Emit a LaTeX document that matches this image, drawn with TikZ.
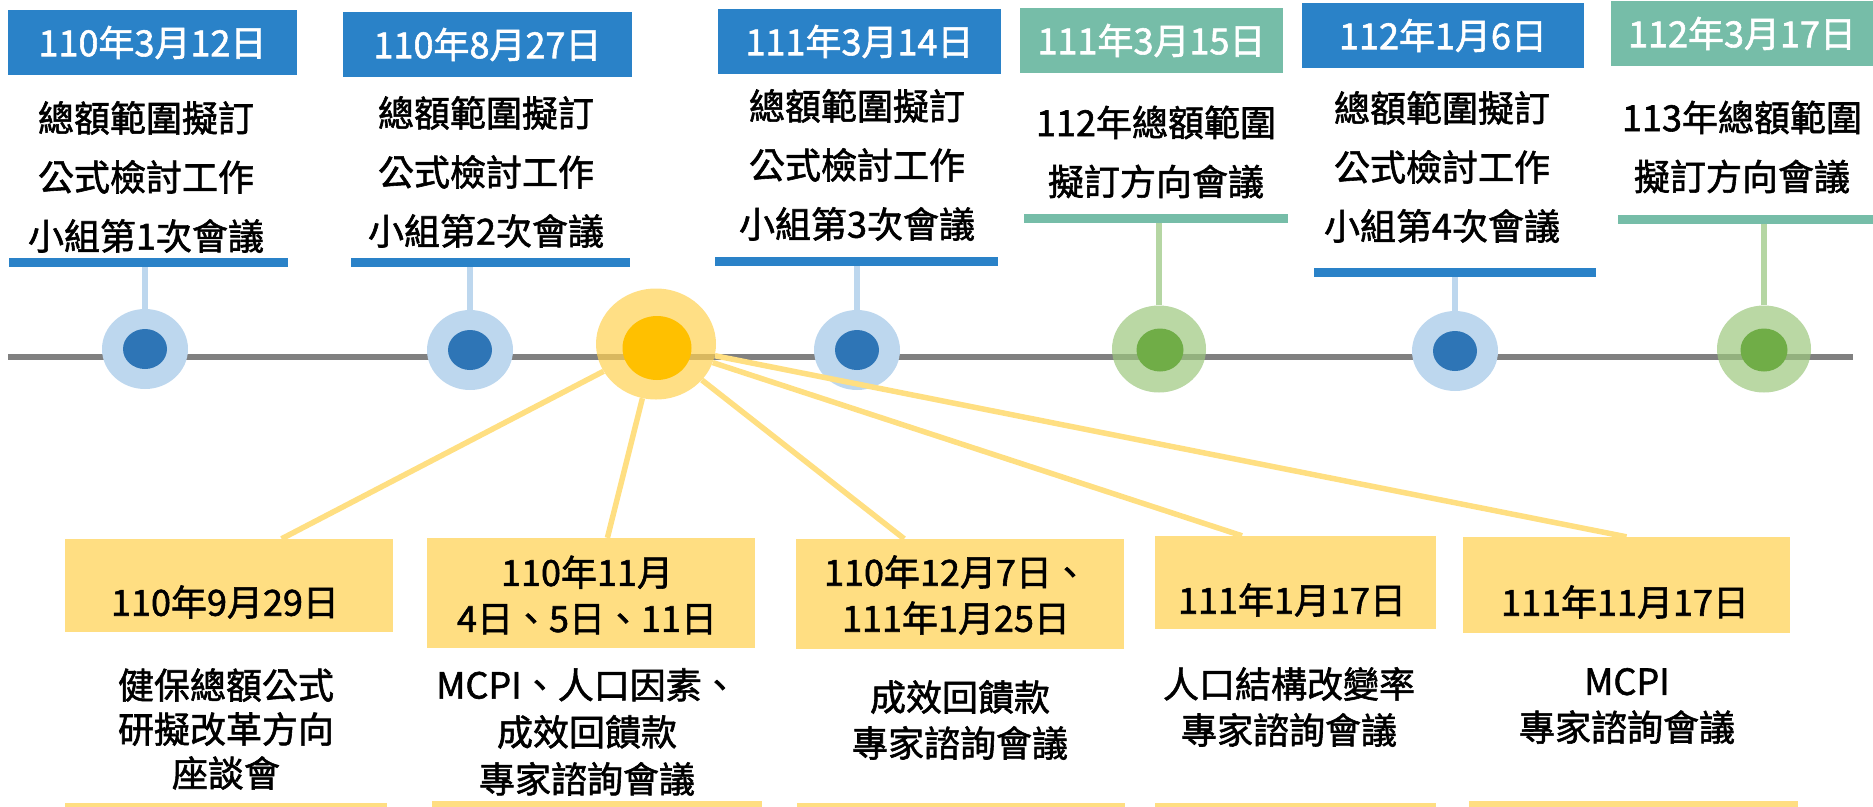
\documentclass[tikz,border=0pt]{standalone}
\usepackage{fontspec}
\newfontfamily\tw{Noto Sans CJK TC}[FakeBold=1.6]
\usepackage{tikz}
\usetikzlibrary{positioning}
\usetikzlibrary{calc}
\usetikzlibrary{shapes}
\definecolor{hblue}{RGB}{42,130,200}
\definecolor{hgreen}{RGB}{118,189,168}
\definecolor{ybox}{RGB}{255,222,130}
\definecolor{bout}{RGB}{189,215,238}
\definecolor{bin}{RGB}{46,117,182}
\definecolor{gout}{RGB}{156,199,126}
\definecolor{gin}{RGB}{112,173,71}
\definecolor{yout}{RGB}{255,209,81}
\definecolor{yin}{RGB}{255,192,0}
\definecolor{gstem}{RGB}{181,214,163}
\definecolor{yline}{RGB}{255,223,130}
\tikzset{
hd/.style={
  rectangle,
  inner sep=0pt,
  minimum height=65pt,
  text=white,
  font=\tw\fontsize{36}{40}\selectfont
  },
bar/.style={
  rectangle,
  inner sep=0pt,
  minimum height=9pt
  },
txt/.style={
  inner sep=0pt,
  align=center,
  font=\tw\fontsize{36}{59}\selectfont
  },
btxt/.style={
  inner sep=0pt,
  align=center,
  font=\tw\fontsize{36}{46}\selectfont
  },
ring/.style={
  ellipse,
  inner sep=0pt
  },
yb/.style={
  rectangle,
  inner sep=0pt,
  fill=ybox
  }
}

\begin{document}
\begin{tikzpicture}[x=1pt,y=-1pt]
  \useasboundingbox (0,0) rectangle (1873,806);
  \coordinate (ax0) at (8,357);
  \coordinate (ax1) at (1853,357);
  \draw[line width=6pt,black!50] (ax0) -- (ax1);

  % top row
  \node[hd,fill=hblue,minimum width=289pt] (h1) at (152.5,42.5) {110年3月12日};
  \node[hd,fill=hblue,minimum width=289pt] (h2) at (487.5,44.5) {110年8月27日};
  \node[hd,fill=hblue,minimum width=283pt] (h3) at (859.5,41.5) {111年3月14日};
  \node[hd,fill=hgreen,minimum width=263pt] (h4) at (1151.5,40.5) {111年3月15日};
  \node[hd,fill=hblue,minimum width=282pt] (h5) at (1443,35.5) {112年1月6日};
  \node[hd,fill=hgreen,minimum width=262pt] (h6) at (1742,33.5) {112年3月17日};

  \node[txt] (t1) at (146,177) {總額範圍擬訂\\公式檢討工作\\小組第1次會議};
  \node[txt] (t2) at (486,172) {總額範圍擬訂\\公式檢討工作\\小組第2次會議};
  \node[txt] (t3) at (857,165) {總額範圍擬訂\\公式檢討工作\\小組第3次會議};
  \node[txt] (t4) at (1156,152) {112年總額範圍\\擬訂方向會議};
  \node[txt] (t5) at (1442,167) {總額範圍擬訂\\公式檢討工作\\小組第4次會議};
  \node[txt] (t6) at (1742,147) {113年總額範圍\\擬訂方向會議};

  \node[bar,fill=hblue,minimum width=279pt] (bar1) at (148.5,262.5) {};
  \node[bar,fill=hblue,minimum width=279pt] (bar2) at (490.5,262.5) {};
  \node[bar,fill=hblue,minimum width=283pt] (bar3) at (856.5,261.5) {};
  \node[bar,fill=hgreen,minimum width=264pt] (bar4) at (1156,218) {};
  \node[bar,fill=hblue,minimum width=282pt] (bar5) at (1455,272) {};
  \node[bar,fill=hgreen,minimum width=262pt] (bar6) at (1749,219) {};

  % dots on the line
  \node[ring,fill=bout,minimum width=86pt,minimum height=80pt] (c1) at (145,349) {};
  \node[ring,fill=bin,minimum width=44pt,minimum height=40pt] (c1i) at (145,349) {};
  \node[ring,fill=bout,minimum width=86pt,minimum height=80pt] (c2) at (470,350) {};
  \node[ring,fill=bin,minimum width=44pt,minimum height=40pt] (c2i) at (470,350) {};
  \node[ring,fill=yout,fill opacity=0.7,minimum width=120pt,minimum height=111pt] (yc) at (656,344) {};
  \node[ring,fill=yin,minimum width=69pt,minimum height=64pt] (yci) at (657,348) {};
  \node[ring,fill=bout,minimum width=86pt,minimum height=80pt] (c3) at (857,350) {};
  \node[ring,fill=bin,minimum width=44pt,minimum height=40pt] (c3i) at (857,350) {};
  \node[ring,fill=gout,fill opacity=0.7,minimum width=94pt,minimum height=87pt] (c4) at (1159,349) {};
  \node[ring,fill=gin,minimum width=47pt,minimum height=43pt] (c4i) at (1160,350) {};
  \node[ring,fill=bout,minimum width=86pt,minimum height=80pt] (c5) at (1455,351) {};
  \node[ring,fill=bin,minimum width=44pt,minimum height=40pt] (c5i) at (1455,351) {};
  \node[ring,fill=gout,fill opacity=0.7,minimum width=94pt,minimum height=87pt] (c6) at (1764,349) {};
  \node[ring,fill=gin,minimum width=47pt,minimum height=43pt] (c6i) at (1764,350) {};

  \draw[line width=6pt,bout] (c1.north) -- (c1.north |- bar1.south);
  \draw[line width=6pt,bout] (c2.north) -- (c2.north |- bar2.south);
  \draw[line width=6pt,bout] (c3.north) -- (c3.north |- bar3.south);
  \draw[line width=6pt,gstem] (c4.north) -- (c4.north |- bar4.south);
  \draw[line width=6pt,bout] (c5.north) -- (c5.north |- bar5.south);
  \draw[line width=6pt,gstem] (c6.north) -- (c6.north |- bar6.south);

  % bottom row
  \node[yb,minimum width=328pt,minimum height=93pt] (ba) at (229,585.5) {};
  \node[yb,minimum width=328pt,minimum height=110pt] (bb) at (591,593) {};
  \node[yb,minimum width=328pt,minimum height=110pt] (bc) at (960,594) {};
  \node[yb,minimum width=281pt,minimum height=93pt] (bd) at (1295.5,582.5) {};
  \node[yb,minimum width=327pt,minimum height=96pt] (be) at (1626.5,585) {};

  \node[btxt] (da) at (225,602) {110年9月29日};
  \node[btxt] (db) at (587,595) {110年11月\\4日、5日、11日};
  \node[btxt] (dc) at (956,595) {110年12月7日、\\111年1月25日};
  \node[btxt] (dd) at (1292,600) {111年1月17日};
  \node[btxt] (de) at (1625,602) {111年11月17日};

  \node[btxt,font=\tw\fontsize{36}{44}\selectfont] (ea) at (226,729) {健保總額公式\\研擬改革方向\\座談會};
  \node[btxt,font=\tw\fontsize{36}{47}\selectfont] (eb) at (587,732) {MCPI、人口因素、\\成效回饋款\\專家諮詢會議};
  \node[btxt] (ec) at (960,720) {成效回饋款\\專家諮詢會議};
  \node[btxt] (ed) at (1289,707) {人口結構改變率\\專家諮詢會議};
  \node[btxt] (ee) at (1627,706) {MCPI\\專家諮詢會議};

  \node[yb,minimum width=322pt,minimum height=8pt] (fa) at (226,807) {};
  \node[yb,minimum width=330pt,minimum height=10pt] (fb) at (597,806) {};
  \node[yb,minimum width=328pt,minimum height=8pt] (fc) at (961,807) {};
  \node[yb,minimum width=281pt,minimum height=8pt] (fd) at (1295.5,807) {};
  \node[yb,minimum width=329pt,minimum height=10pt] (fe) at (1633.5,806) {};

  \path[draw=yline,line width=5.5pt]
  (yc) edge ($(ba.north west)!0.66!(ba.north east)$)
  (yc) edge ($(bb.north west)!0.55!(bb.north east)$)
  (yc) edge ($(bc.north west)!0.33!(bc.north east)$)
  (yc) edge ($(bd.north west)!0.31!(bd.north east)$)
  (yc) edge ($(be.north west)!0.50!(be.north east)$)
  ;
\end{tikzpicture}
\end{document}
